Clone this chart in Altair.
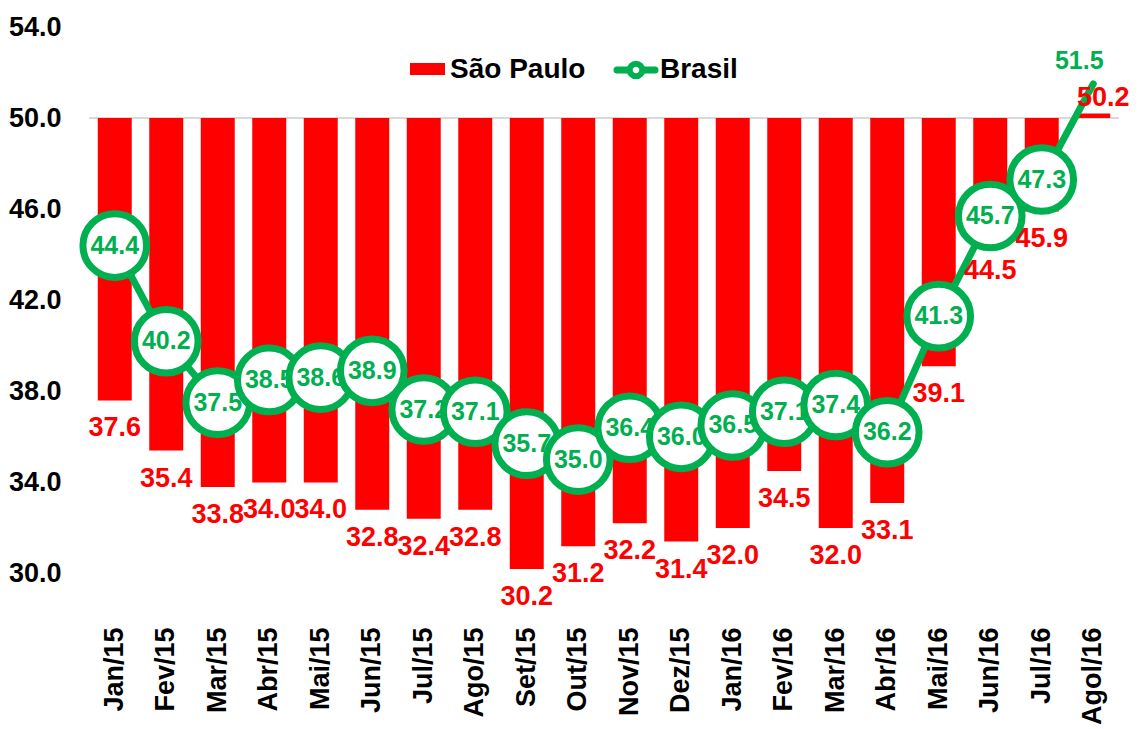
import altair as alt
import pandas as pd

months = ["Jan/15", "Fev/15", "Mar/15", "Abr/15", "Mai/15", "Jun/15", "Jul/15",
          "Ago/15", "Set/15", "Out/15", "Nov/15", "Dez/15", "Jan/16", "Fev/16",
          "Mar/16", "Abr/16", "Mai/16", "Jun/16", "Jul/16", "Agol/16"]
sao_paulo = [37.6, 35.4, 33.8, 34.0, 34.0, 32.8, 32.4, 32.8, 30.2, 31.2,
             32.2, 31.4, 32.0, 34.5, 32.0, 33.1, 39.1, 44.5, 45.9, 50.2]
brasil = [44.4, 40.2, 37.5, 38.5, 38.6, 38.9, 37.2, 37.1, 35.7, 35.0,
          36.4, 36.0, 36.5, 37.1, 37.4, 36.2, 41.3, 45.7, 47.3, 51.5]
y_ticks = [30, 34, 38, 42, 46, 50, 54]
axis_cross = 50
series_names = ["São Paulo", "Brasil"]

RED = "#FF0000"
GREEN = "#00B050"
FONT = "Liberation Sans"

df = pd.DataFrame({"month": months, "sp": sao_paulo, "br": brasil})
base = alt.Chart(df)

xscale = alt.Scale(domain=months, paddingInner=0.34, paddingOuter=0.17)
xaxis = alt.Axis(labelAngle=-90, labelFont=FONT, labelFontSize=27, labelFontWeight="bold",
                 labelColor="black", domain=False, ticks=False, grid=False,
                 labelPadding=8, title=None)
yscale = alt.Scale(domain=[28, 54], nice=False, zero=False)
yaxis = alt.Axis(values=y_ticks, format=".1f", labelFont=FONT, labelFontSize=27,
                 labelFontWeight="bold", labelColor="black", domain=False, ticks=False,
                 grid=False, labelPadding=28, title=None)

X = alt.X("month:N", scale=xscale, axis=xaxis)

def Y(field):
    return alt.Y(f"{field}:Q", scale=yscale, axis=yaxis)

rule50 = alt.Chart(alt.Data(values=[{"v": axis_cross}])).mark_rule(
    color="#d9d9d9", strokeWidth=2).encode(y=alt.Y("v:Q", scale=yscale, axis=yaxis))

bars = base.mark_bar(color=RED).encode(x=X, y=Y("sp"), y2=alt.datum(axis_cross))

line = base.mark_line(color=GREEN, strokeWidth=7, strokeCap="round",
                      strokeJoin="round").encode(x=X, y=Y("br"))

layers = [rule50, bars, line]

for m in months[:-1]:
    sub = base.transform_filter(alt.datum.month == m)
    layers.append(sub.mark_point(shape="circle", filled=True, fill="white", stroke=GREEN,
                                 strokeWidth=7, size=4050, opacity=1)
                  .encode(x=X, y=Y("br")))
    layers.append(sub.mark_text(font=FONT, fontSize=25, fontWeight="bold", color=GREEN,
                                baseline="middle", align="center")
                  .encode(x=X, y=Y("br"), text=alt.Text("br:Q", format=".1f")))

last = months[-1]
layers.append(base.transform_filter(alt.datum.month == last)
              .mark_text(font=FONT, fontSize=25, fontWeight="bold", color=GREEN,
                         baseline="middle", align="center", dx=-14, dy=-23)
              .encode(x=X, y=Y("br"), text=alt.Text("br:Q", format=".1f")))

layers.append(base.transform_filter(alt.datum.sp < axis_cross)
              .mark_text(font=FONT, fontSize=27, fontWeight="bold", color=RED,
                         baseline="middle", align="center", dy=28)
              .encode(x=X, y=Y("sp"), text=alt.Text("sp:Q", format=".1f")))
layers.append(base.transform_filter(alt.datum.sp >= axis_cross)
              .mark_text(font=FONT, fontSize=27, fontWeight="bold", color=RED,
                         baseline="middle", align="center", dx=10, dy=-16)
              .encode(x=X, y=Y("sp"), text=alt.Text("sp:Q", format=".1f")))

# legend
leg = alt.Chart(alt.Data(values=[{"k": 1}]))
layers.append(leg.mark_rect(color=RED).encode(
    x=alt.value(321), x2=alt.value(356), y=alt.value(36), y2=alt.value(48)))
layers.append(leg.mark_text(font=FONT, fontSize=28, fontWeight="bold", color="black",
                            align="left", baseline="middle", text=series_names[0])
              .encode(x=alt.value(361), y=alt.value(43)))
layers.append(leg.mark_rule(color=GREEN, strokeWidth=7, strokeCap="round").encode(
    x=alt.value(528), x2=alt.value(566), y=alt.value(43)))
layers.append(leg.mark_point(shape="circle", filled=True, fill="white", stroke=GREEN,
                             strokeWidth=6, size=160, opacity=1)
              .encode(x=alt.value(547), y=alt.value(43)))
layers.append(leg.mark_text(font=FONT, fontSize=28, fontWeight="bold", color="black",
                            align="left", baseline="middle", text=series_names[1])
              .encode(x=alt.value(571), y=alt.value(43)))

chart = alt.layer(*layers).properties(
    width=1030, height=592,
    padding={"left": 0, "top": 5, "right": 0, "bottom": 0},
    background="white",
).configure_view(strokeWidth=0)

chart.save("out.html", embed_options={"renderer": "svg", "actions": False})
